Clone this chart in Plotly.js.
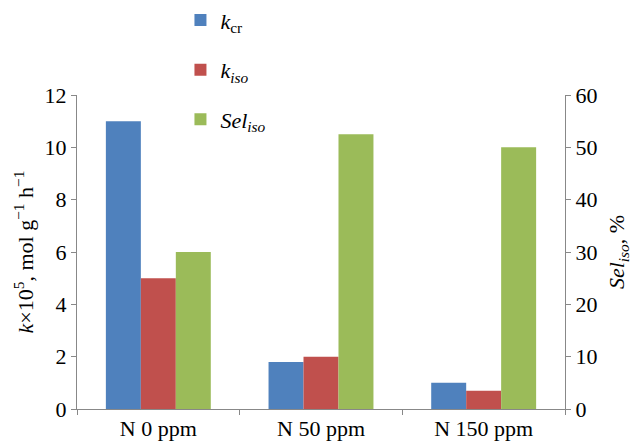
<!DOCTYPE html>
<html>
<head>
<meta charset="utf-8">
<script src="https://cdn.plot.ly/plotly-3.0.1.min.js"></script>
<style>html,body{margin:0;padding:0;background:#fff;}#chart{width:636px;height:442px;}</style>
</head>
<body>
<div id="chart"></div>
<script>
const categories = ["N 0 ppm", "N 50 ppm", "N 150 ppm"];
const kCr = [11.0, 1.8, 1.0];
const kIso = [5.0, 2.0, 0.7];
const selIso = [30.0, 52.5, 50.0];
const seriesNames = ["<i>k</i><sub>cr</sub>", "<i>k<sub>iso</sub></i>", "<i>Sel<sub>iso</sub></i>"];

const font = "Liberation Serif";
const axisColor = "#888888";

const traces = [
  {type: "bar", x: categories, y: kCr, name: seriesNames[0], marker: {color: "#4F81BD"}, offsetgroup: "a", legendgroup: "a", yaxis: "y"},
  {type: "bar", x: categories, y: kIso, name: seriesNames[1], marker: {color: "#C0504D"}, offsetgroup: "b", legendgroup: "b", yaxis: "y"},
  {type: "bar", x: categories, y: selIso, name: seriesNames[2], marker: {color: "#9BBB59"}, offsetgroup: "c", legendgroup: "c", yaxis: "y2"}
];

const layout = {
  width: 636, height: 442,
  margin: {l: 77, r: 71, t: 95, b: 33, autoexpand: false},
  paper_bgcolor: "#fff", plot_bgcolor: "#fff",
  font: {family: font, size: 22, color: "#000"},
  barmode: "group", bargap: 0.355, bargroupgap: 0,
  showlegend: true,
  legend: {x: 0.212, xanchor: "left", y: 1.305, yanchor: "top", orientation: "v",
           font: {family: font, size: 22, color: "#000"}, tracegroupgap: 18, bgcolor: "rgba(0,0,0,0)"},
  xaxis: {type: "category", tickson: "boundaries", ticks: "outside", ticklen: 5, tickcolor: axisColor,
          showline: true, linecolor: axisColor, linewidth: 1, showgrid: false, zeroline: false,
          tickfont: {family: font, size: 22, color: "#000"}},
  yaxis: {range: [0, 12], dtick: 2, ticks: "outside", ticklen: 5, tickcolor: axisColor,
          showline: true, linecolor: axisColor, showgrid: false, zeroline: false,
          tickfont: {family: font, size: 22, color: "#000"},
          title: {text: "<i>k</i>×10<sup>5</sup>, mol g<sup>−1</sup> h<sup>−1</sup>", font: {family: font, size: 22, color: "#000"}, standoff: 4}},
  yaxis2: {range: [0, 60], dtick: 10, overlaying: "y", side: "right", ticks: "outside", ticklen: 5, tickcolor: axisColor,
           showline: true, linecolor: axisColor, showgrid: false, zeroline: false,
           tickfont: {family: font, size: 22, color: "#000"},
           title: {text: "<i>Sel<sub>iso</sub></i>, %", font: {family: font, size: 22, color: "#000"}, standoff: 12}}
};

Plotly.newPlot("chart", traces, layout, {displayModeBar: false, staticPlot: true});
</script>
</body>
</html>
